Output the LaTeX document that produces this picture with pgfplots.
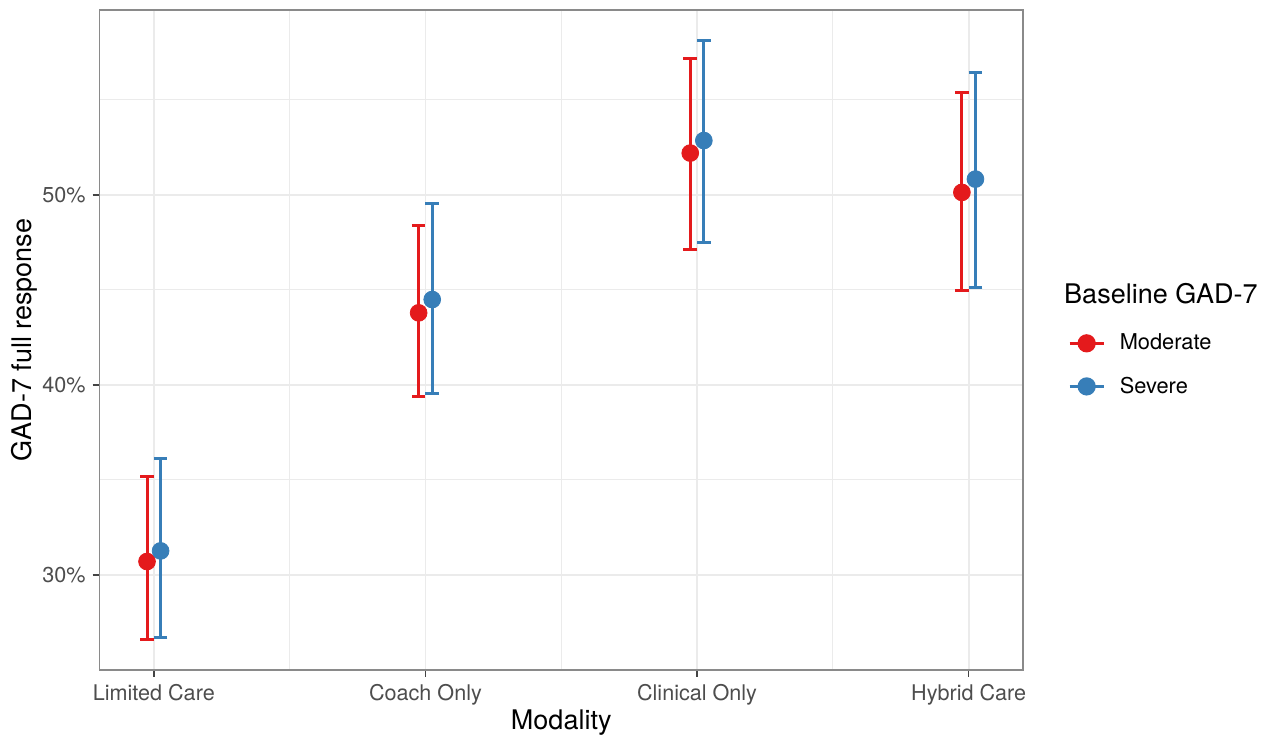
\documentclass[border=0pt]{standalone}
\usepackage{pgfplots}
\pgfplotsset{compat=1.18}
\usepackage{pgfplotstable}
\usepackage{fontspec}
\setmainfont{TeX Gyre Heros}
\definecolor{mred}{HTML}{E41A1C}
\definecolor{mblue}{HTML}{377EB8}
\definecolor{gridc}{HTML}{EBEBEB}
\definecolor{axc}{HTML}{8A8A8A}
\definecolor{tickcol}{HTML}{444444}
\definecolor{tickc}{HTML}{4D4D4D}
\pgfplotstableread{
x y lo hi
0.975 30.70 26.57 35.17
1.975 43.79 39.37 48.38
2.975 52.20 47.12 57.19
3.975 50.13 44.96 55.38
}\moderate
\pgfplotstableread{
x y lo hi
1.025 31.26 26.71 36.13
2.025 44.49 39.53 49.52
3.025 52.86 47.47 58.15
4.025 50.83 45.12 56.45
}\severe
\begin{document}
\begin{tikzpicture}
\path[use as bounding box] (-49.75pt,-33pt) rectangle (583.25pt,335pt);
\begin{axis}[at={(0,0)}, anchor=south west, scale only axis,
  width=461.75pt, height=330pt,
  xmin=0.8, xmax=4.2, ymin=24.99, ymax=59.73,
  xtick={1,2,3,4}, xticklabels={Limited Care, Coach Only, Clinical Only, Hybrid Care},
  minor xtick={1.5,2.5,3.5},
  ytick={30,40,50}, minor ytick={35,45,55},
  yticklabel={\pgfmathprintnumber{\tick}\%},
  grid=both,
  major grid style={gridc, line width=0.9pt},
  minor grid style={gridc, line width=0.45pt},
  axis line style={axc, line width=0.85pt},
  tick align=outside, major tick length=3.4pt, minor tick length=0pt,
  tick style={tickcol, line width=0.7pt},
  xtick pos=bottom, ytick pos=left,
  ticklabel style={font=\fontsize{10.8}{12}\selectfont, text=tickc},
  /pgf/number format/assume math mode=true,
  xlabel={Modality}, ylabel={GAD-7 full response},
  label style={font=\fontsize{13.5}{15}\selectfont},
  ylabel style={at={(axis description cs:-0.081,0.5)}, anchor=center},
  xlabel style={at={(axis description cs:0.5,-0.08)}, anchor=center},
  clip=false,
  legend style={draw=none, fill=none, at={(1.042,0.522)}, anchor=north west,
    font=\fontsize{10.9}{12}\selectfont, row sep=8pt,
    /tikz/every odd column/.style={column sep=5.3pt}},
  legend cell align=left,
  legend image code/.code={\draw[#1, mark repeat=2, mark phase=2] plot coordinates {(0pt,0pt) (8.5pt,0pt) (17pt,0pt)};},
]
\addlegendimage{mred, line width=1.5pt, mark=*, mark size=3.8pt, mark options={solid, fill=mred}}
\addlegendentry{Moderate}
\addlegendimage{mblue, line width=1.5pt, mark=*, mark size=3.8pt, mark options={solid, fill=mblue}}
\addlegendentry{Severe}
\addplot[mred, only marks, mark=*, mark size=4.2pt, mark options={fill=mred}, forget plot,
  error bars/.cd, y dir=both, y explicit,
  error bar style={line width=1.5pt, mred},
  error mark options={rotate=90, mred, line width=1.5pt, mark size=3.4pt}]
  table[x=x, y=y, y error plus expr=\thisrow{hi}-\thisrow{y}, y error minus expr=\thisrow{y}-\thisrow{lo}] {\moderate};
\addplot[mblue, only marks, mark=*, mark size=4.2pt, mark options={fill=mblue}, forget plot,
  error bars/.cd, y dir=both, y explicit,
  error bar style={line width=1.5pt, mblue},
  error mark options={rotate=90, mblue, line width=1.5pt, mark size=3.4pt}]
  table[x=x, y=y, y error plus expr=\thisrow{hi}-\thisrow{y}, y error minus expr=\thisrow{y}-\thisrow{lo}] {\severe};
\node[anchor=west, font=\fontsize{13.5}{15}\selectfont] at (axis description cs:1.037,0.5695) {Baseline GAD-7};
\end{axis}
\end{tikzpicture}
\end{document}
